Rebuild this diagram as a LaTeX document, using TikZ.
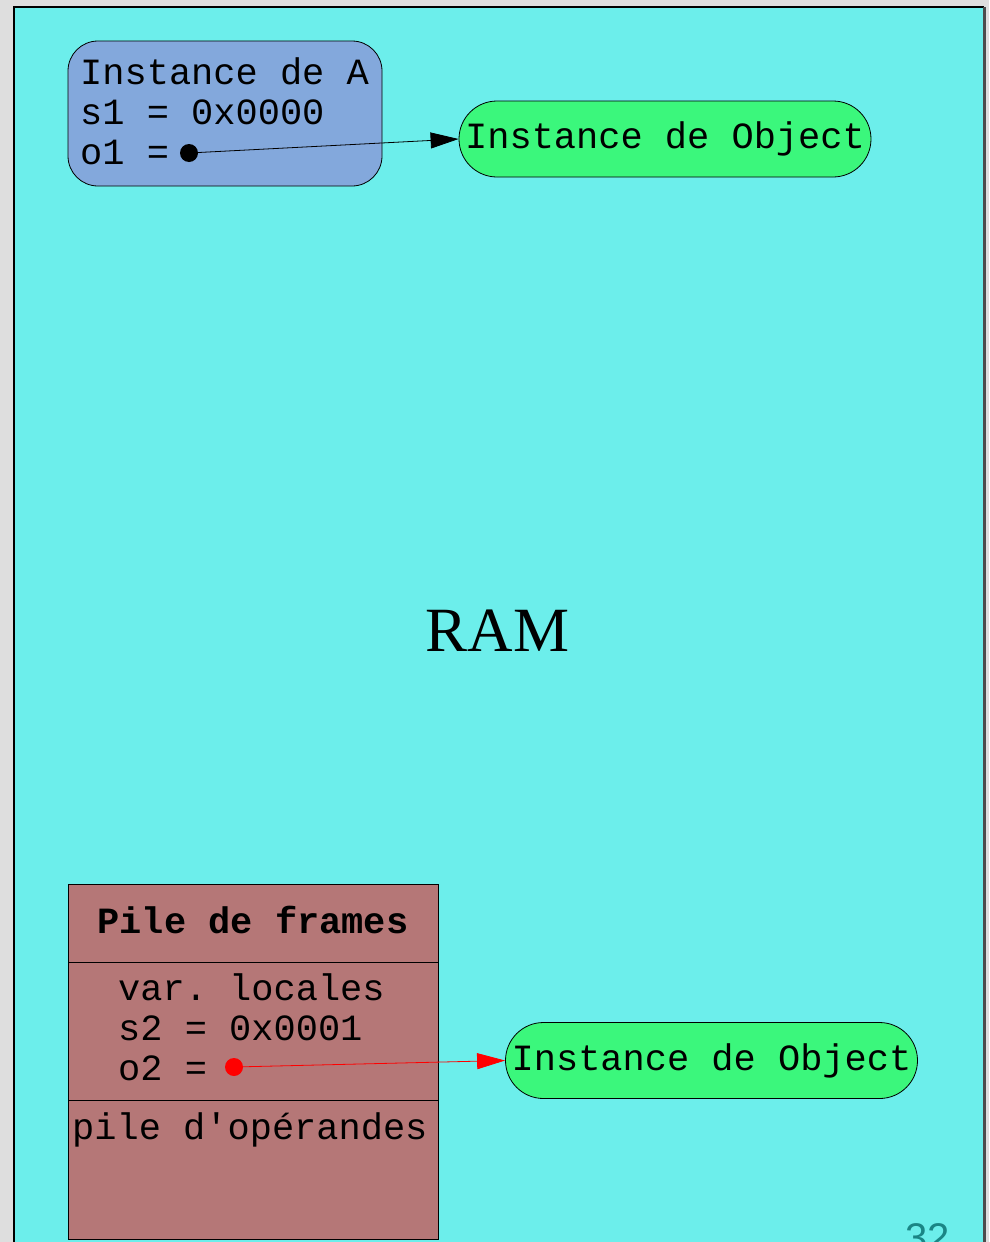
\documentclass[tikz,border=0pt]{standalone}
\usepackage{fontspec}
\setmainfont{Liberation Serif}
\setmonofont{Liberation Mono}
\newfontfamily\numfont{Liberation Sans}
\usetikzlibrary{arrows.meta}
\definecolor{bggray}{HTML}{DEDEDE}
\definecolor{ramcyan}{HTML}{6CEEEB}
\definecolor{objblue}{HTML}{83A8DC}
\definecolor{objgreen}{HTML}{3BF77C}
\definecolor{framebrown}{HTML}{B57777}
\definecolor{pageteal}{HTML}{1A8585}
\tikzset{
  codetext/.style={inner sep=0pt, anchor=base west, font=\ttfamily\fontsize{37}{40}\selectfont},
  instbox/.style={draw=black, line width=0.8pt, fill=objgreen, rounded corners=38pt,
    minimum width=412pt, minimum height=76pt, inner sep=0pt, font=\ttfamily\fontsize{37}{40}\selectfont},
  framebox/.style={draw=black, line width=0.8pt, fill=framebrown, minimum width=370pt, inner sep=0pt},
  refdot/.style={circle, fill=#1, minimum size=18pt, inner sep=0pt},
  refarrow/.style={line width=0.8pt, -{Triangle[length=28pt,width=16pt]}}
}
\begin{document}
\begin{tikzpicture}[x=1pt,y=-1pt]
\useasboundingbox (0,0) rectangle (989,1242);
\fill[bggray] (0,0) rectangle (989,1242);
\begin{scope}
\clip (0,0) rectangle (989,1242);
\fill[ramcyan] (14,7) rectangle (984,1260);
\draw[black, line width=1.2pt] (14,1260) -- (14,7) -- (984,7);
\draw[black!70, line width=2.5pt] (984.5,7) -- (984.5,1260);
\node[inner sep=0pt, anchor=base west, font=\numfont\fontsize{40}{40}\selectfont, text=pageteal] (page) at (905,1251) {32};
\end{scope}
% Instance de A
\node[draw=black, line width=0.8pt, fill=objblue, rounded corners=30pt, minimum width=314pt, minimum height=145pt, inner sep=0pt] (boxA) at (225,113.5) {};
\node[codetext] (a1) at (80,84) {Instance de A};
\node[codetext] (a2) at (80,124) {s1 = 0x0000};
\node[codetext] (a3) at (80,164) {o1 =};
\node[refdot=black] (dot1) at (189,153) {};
% Object 1
\node[instbox] (obj1) at (665,139) {Instance de Object};
\draw[refarrow] (dot1.center) -- (obj1.west);
% RAM
\node[inner sep=0pt, anchor=base, font=\fontsize{63}{63}\selectfont] (ram) at (497.5,651) {RAM};
% Pile de frames
\node[framebox, minimum height=78pt] (head) at (253,923) {};
\node[inner sep=0pt, anchor=base, font=\ttfamily\bfseries\fontsize{37}{40}\selectfont] (headtxt) at (253,933) {Pile de frames};
\node[framebox, minimum height=138pt] (locals) at (253,1031) {};
\node[codetext] (l1) at (118,1000) {var. locales};
\node[codetext] (l2) at (118,1040) {s2 = 0x0001};
\node[codetext] (l3) at (118,1080) {o2 =};
\node[framebox, minimum height=139pt] (ops) at (253,1169.5) {};
\node[codetext] (optxt) at (72,1139) {pile d'opérandes};
\node[refdot=red] (dot2) at (234,1067) {};
% Object 2
\node[instbox] (obj2) at (711.5,1060.5) {Instance de Object};
\draw[refarrow, red] (dot2.center) -- (obj2.west);
\end{tikzpicture}
\end{document}
